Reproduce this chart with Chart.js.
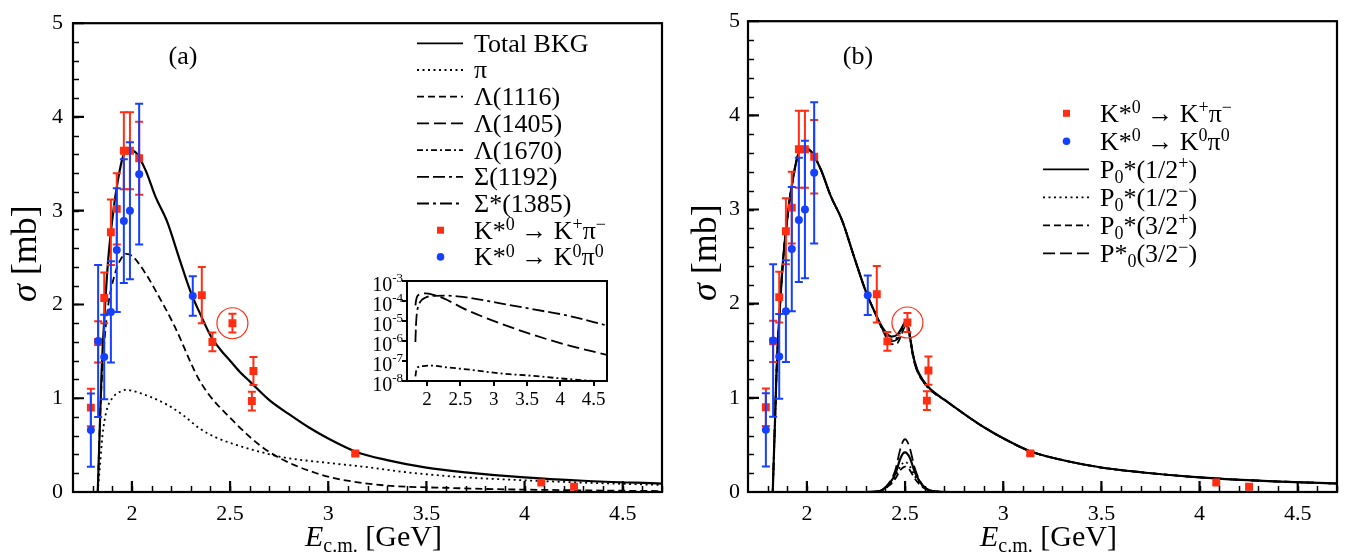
<!DOCTYPE html>
<html>
<head>
<meta charset="utf-8">
<title>K*0 photoproduction cross sections</title>
<script src="https://cdn.jsdelivr.net/npm/chart.js@4.4.1/dist/chart.umd.min.js"></script>
<style>
  html, body { margin: 0; padding: 0; background: #fff; overflow: hidden; }
  #wrap { position: relative; width: 1359px; height: 556px; }
  canvas { position: absolute; }
  #chartA { left: 0; top: 0; }
  #chartB { left: 680px; top: 0; }
  #inset { left: 340px; top: 270px; }
</style>
</head>
<body>
<div id="wrap">
  <canvas id="chartA" width="680" height="556"></canvas>
  <canvas id="chartB" width="679" height="556"></canvas>
  <canvas id="inset" width="280" height="145"></canvas>
</div>
<script>
const FONT = '"Liberation Serif", "DejaVu Serif", "Times New Roman", serif';
const RED = '#ff2d12';
const BLUE = '#1640ff';

// axis ticks
const xTickVals = [2, 2.5, 3, 3.5, 4, 4.5];
const yTickVals = [0, 1, 2, 3, 4, 5];
const insetXTicks = [2, 2.5, 3, 3.5, 4, 4.5];
const insetYTicks = [1e-3, 1e-4, 1e-5, 1e-6, 1e-7, 1e-8];
const insetYExp = ['-3', '-4', '-5', '-6', '-7', '-8'];

// measured cross sections (E_cm in GeV, sigma in mb)
const redE   = [1.791, 1.828, 1.859, 1.893, 1.923, 1.959, 1.990, 2.037, 2.356, 2.410, 2.512, 2.611, 2.619, 3.138, 4.085, 4.252];
const redSig = [0.90, 1.60, 2.07, 2.77, 3.02, 3.64, 3.64, 3.56, 2.10, 1.60, 1.80, 0.97, 1.29, 0.41, 0.10, 0.056];
const redErr = [0.20, 0.22, 0.27, 0.35, 0.38, 0.41, 0.41, 0.39, 0.30, 0.10, 0.10, 0.10, 0.15, 0.02, 0, 0];
const blueE   = [1.791, 1.828, 1.859, 1.893, 1.923, 1.959, 1.990, 2.037, 2.310];
const blueSig = [0.66, 1.61, 1.44, 1.92, 2.58, 2.89, 3.00, 3.39, 2.09];
const blueErr = [0.39, 0.81, 0.45, 0.54, 0.66, 0.66, 0.73, 0.75, 0.21];
const circledE = 2.512;
const circledSig = 1.80;

// panel (a): background contributions
const totE   = [1.826, 1.837, 1.845, 1.862, 1.879, 1.905, 1.93, 1.955, 1.98, 2.02, 2.07, 2.12, 2.18, 2.24, 2.3, 2.35, 2.4, 2.45, 2.5, 2.55, 2.6, 2.7, 2.8, 2.9, 3.0, 3.14, 3.3, 3.5, 3.7, 4.0, 4.3, 4.7];
const totSig = [0, 0.72, 1.25, 1.94, 2.47, 2.99, 3.34, 3.58, 3.65, 3.62, 3.43, 3.15, 2.88, 2.50, 2.13, 1.89, 1.67, 1.52, 1.40, 1.28, 1.18, 0.98, 0.83, 0.69, 0.57, 0.43, 0.34, 0.26, 0.21, 0.155, 0.12, 0.09];
const piE   = [1.826, 1.837, 1.85, 1.87, 1.9, 1.94, 1.97, 2.0, 2.1, 2.18, 2.26, 2.35, 2.43, 2.52, 2.65, 2.77, 3.0, 3.2, 3.4, 3.67, 4.0, 4.3, 4.7];
const piSig = [0, 0.27, 0.6, 0.86, 1.0, 1.07, 1.09, 1.08, 1.01, 0.93, 0.82, 0.67, 0.58, 0.51, 0.43, 0.37, 0.31, 0.265, 0.21, 0.16, 0.125, 0.10, 0.075];
const l1116E   = [1.826, 1.84, 1.86, 1.88, 1.91, 1.94, 1.97, 2.0, 2.07, 2.12, 2.21, 2.35, 2.52, 2.69, 2.94, 3.2, 3.67, 4.2, 4.7];
const l1116Sig = [0, 0.9, 1.6, 2.0, 2.3, 2.47, 2.54, 2.52, 2.33, 2.15, 1.80, 1.17, 0.75, 0.44, 0.20, 0.09, 0.04, 0.02, 0.01];

// small contributions (log inset)
const l1405E   = [1.826, 1.835, 1.85, 1.88, 1.93, 1.98, 2.1, 2.25, 2.6, 3.1, 3.6, 4.1, 4.7];
const l1405Sig = [6e-5, 1e-4, 1.6e-4, 2.1e-4, 2.35e-4, 2.4e-4, 2e-4, 1.35e-4, 3.5e-5, 7.6e-6, 2e-6, 6.3e-7, 2e-7];
const s1192E   = [1.826, 1.835, 1.845, 1.86, 1.9, 1.98, 2.1, 2.3, 2.6, 3.1, 3.6, 4.1, 4.7];
const s1192Sig = [9e-7, 6.3e-6, 2e-5, 4.3e-5, 9.3e-5, 1.5e-4, 1.8e-4, 1.85e-4, 1.5e-4, 7.6e-5, 3.8e-5, 1.9e-5, 5.9e-6];
const l1670E   = [1.826, 1.84, 1.87, 1.95, 2.05, 2.3, 2.6, 3.1, 3.6, 4.0, 4.5, 4.7];
const l1670Sig = [1.7e-8, 3.5e-8, 5e-8, 5.6e-8, 5.9e-8, 4.8e-8, 3.8e-8, 2.4e-8, 1.8e-8, 1.35e-8, 1e-8, 9.3e-9];

// panel (b): totals with the P0* resonance for each spin-parity
const bE = [1.826, 1.837, 1.845, 1.862, 1.879, 1.905, 1.93, 1.955, 1.98, 2.02, 2.07, 2.12, 2.18, 2.24, 2.3, 2.35, 2.39, 2.43, 2.46, 2.48, 2.50, 2.52, 2.54, 2.56, 2.59, 2.63, 2.7, 2.8, 2.9, 3.0, 3.14, 3.3, 3.5, 3.7, 4.0, 4.3, 4.7];
const bHalfPlus   = [0, 0.72, 1.25, 1.94, 2.47, 2.99, 3.34, 3.58, 3.65, 3.62, 3.43, 3.15, 2.88, 2.50, 2.13, 1.89, 1.73, 1.65, 1.67, 1.73, 1.79, 1.70, 1.46, 1.31, 1.19, 1.09, 0.98, 0.83, 0.69, 0.57, 0.43, 0.34, 0.26, 0.21, 0.155, 0.12, 0.09];
const bHalfMinus  = [0, 0.72, 1.25, 1.94, 2.47, 2.99, 3.34, 3.58, 3.65, 3.62, 3.43, 3.15, 2.88, 2.50, 2.13, 1.89, 1.72, 1.62, 1.64, 1.71, 1.77, 1.69, 1.45, 1.30, 1.18, 1.08, 0.98, 0.83, 0.69, 0.57, 0.43, 0.34, 0.26, 0.21, 0.155, 0.12, 0.09];
const bThreePlus  = [0, 0.72, 1.25, 1.94, 2.47, 2.99, 3.34, 3.58, 3.65, 3.62, 3.43, 3.15, 2.88, 2.50, 2.13, 1.89, 1.70, 1.57, 1.58, 1.66, 1.75, 1.70, 1.47, 1.31, 1.18, 1.08, 0.98, 0.83, 0.69, 0.57, 0.43, 0.34, 0.26, 0.21, 0.155, 0.12, 0.09];
const bThreeMinus = [0, 0.72, 1.25, 1.94, 2.47, 2.99, 3.34, 3.58, 3.65, 3.62, 3.43, 3.15, 2.88, 2.50, 2.13, 1.89, 1.71, 1.60, 1.62, 1.72, 1.80, 1.73, 1.44, 1.29, 1.18, 1.09, 0.98, 0.83, 0.69, 0.57, 0.43, 0.34, 0.26, 0.21, 0.155, 0.12, 0.09];

// resonance-only contributions
const resE          = [2.30, 2.37, 2.42, 2.45, 2.475, 2.49, 2.50, 2.51, 2.525, 2.55, 2.59, 2.64, 2.72];
const resHalfPlus   = [0, 0.01, 0.09, 0.19, 0.35, 0.41, 0.42, 0.41, 0.36, 0.21, 0.07, 0.01, 0];
const resHalfMinus  = [0, 0.01, 0.08, 0.16, 0.27, 0.31, 0.32, 0.31, 0.27, 0.17, 0.06, 0.01, 0];
const resThreePlus  = [0, 0.01, 0.07, 0.14, 0.23, 0.26, 0.27, 0.26, 0.23, 0.14, 0.05, 0.01, 0];
const resThreeMinus = [0, 0.01, 0.10, 0.23, 0.45, 0.54, 0.56, 0.54, 0.46, 0.25, 0.07, 0.01, 0];

// line styles
const DOT = [2, 3.5];
const DASH = [7, 4];
const LONGDASH = [12, 5];
const DASHDOT = [6, 3, 2, 3];
const DASHDASHDOT = [12, 4, 12, 4, 3, 4];
const LONGDASHDOT = [12, 4, 3, 4];

function serif(size, style) {
  return (style || '') + ' ' + size + 'px ' + FONT;
}

// draw a run of text pieces [text, kind]; kind: '' | 'i' | 'sup' | 'sub'
function drawRich(ctx, pieces, x, y, size, align) {
  const fontOf = k => k === 'i' ? serif(size, 'italic') : (k === 'sup' || k === 'sub') ? serif(Math.round(size * 0.68)) : serif(size);
  let total = 0;
  pieces.forEach(([t, k]) => { ctx.font = fontOf(k); total += ctx.measureText(t).width; });
  let cx = align === 'center' ? x - total / 2 : align === 'right' ? x - total : x;
  ctx.textAlign = 'left';
  ctx.textBaseline = 'alphabetic';
  pieces.forEach(([t, k]) => {
    ctx.font = fontOf(k);
    const dy = k === 'sup' ? -size * 0.33 : k === 'sub' ? size * 0.2 : 0;
    ctx.fillText(t, cx, y + dy);
    cx += ctx.measureText(t).width;
  });
}

function curve(xs, ys, dash, width) {
  return {
    data: xs.map((x, i) => ({ x: x, y: ys[i] })),
    showLine: true, borderColor: '#000', borderWidth: width || 1.8, borderDash: dash,
    pointRadius: 0, cubicInterpolationMode: 'monotone', order: 2
  };
}

function points(xs, ys, errs, color, style, r, order) {
  return {
    data: xs.map((x, i) => ({ x: x, y: ys[i] })),
    errors: errs, showLine: false, pointStyle: style, pointRadius: r,
    backgroundColor: color, borderColor: color, borderWidth: 0, order: order
  };
}

const kPlusPiMinus = [['K*', ''], ['0', 'sup'], [' \u2192 K', ''], ['+', 'sup'], ['\u03c0', ''], ['\u2212', 'sup']];
const kZeroPiZero = [['K*', ''], ['0', 'sup'], [' \u2192 K', ''], ['0', 'sup'], ['\u03c0', ''], ['0', 'sup']];

const legendA = [
  { dash: [], text: [['Total BKG', '']] },
  { dash: DOT, text: [['\u03c0', '']] },
  { dash: DASH, text: [['\u039b(1116)', '']] },
  { dash: LONGDASH, text: [['\u039b(1405)', '']] },
  { dash: DASHDOT, text: [['\u039b(1670)', '']] },
  { dash: DASHDASHDOT, text: [['\u03a3(1192)', '']] },
  { dash: LONGDASHDOT, text: [['\u03a3*(1385)', '']] },
  { marker: 'rect', color: RED, text: kPlusPiMinus },
  { marker: 'circle', color: BLUE, text: kZeroPiZero }
];

const legendB = [
  { marker: 'rect', color: RED, text: kPlusPiMinus },
  { marker: 'circle', color: BLUE, text: kZeroPiZero },
  { dash: [], text: [['P', ''], ['0', 'sub'], ['*(1/2', ''], ['+', 'sup'], [')', '']] },
  { dash: DOT, text: [['P', ''], ['0', 'sub'], ['*(1/2', ''], ['\u2212', 'sup'], [')', '']] },
  { dash: DASH, text: [['P', ''], ['0', 'sub'], ['*(3/2', ''], ['+', 'sup'], [')', '']] },
  { dash: LONGDASH, text: [['P*', ''], ['0', 'sub'], ['(3/2', ''], ['\u2212', 'sup'], [')', '']] }
];

// frame, inward ticks, error bars, legend and titles for the two main panels
const panelPlugin = {
  id: 'panel',
  beforeDatasetDraw(chart, args) {
    const ds = chart.data.datasets[args.index];
    if (!ds.errors) return;
    const { ctx, chartArea: a } = chart;
    const xs = chart.scales.x, ys = chart.scales.y;
    ctx.save();
    ctx.beginPath();
    ctx.rect(a.left, a.top, a.right - a.left, a.bottom - a.top);
    ctx.clip();
    ctx.strokeStyle = ds.backgroundColor;
    ctx.lineWidth = 2;
    ds.data.forEach((p, i) => {
      const e = ds.errors[i];
      if (!e) return;
      const px = xs.getPixelForValue(p.x);
      const y1 = ys.getPixelForValue(p.y + e);
      const y2 = ys.getPixelForValue(p.y - e);
      ctx.beginPath();
      ctx.moveTo(px, y1); ctx.lineTo(px, y2);
      ctx.moveTo(px - 4, y1); ctx.lineTo(px + 4, y1);
      ctx.moveTo(px - 4, y2); ctx.lineTo(px + 4, y2);
      ctx.stroke();
    });
    ctx.restore();
  },
  afterDraw(chart, args, opts) {
    const { ctx, chartArea: a } = chart;
    const xs = chart.scales.x, ys = chart.scales.y;
    ctx.save();
    ctx.strokeStyle = '#000';
    ctx.fillStyle = '#000';

    // inward ticks: majors from the tick lists, minors every 0.1 GeV / 0.2 mb
    ctx.lineWidth = 1.5;
    ctx.beginPath();
    for (let v = 1.8; v < 4.7; v += 0.1) {
      const px = Math.round(xs.getPixelForValue(v)) + 0.5;
      ctx.moveTo(px, a.bottom); ctx.lineTo(px, a.bottom - 6);
    }
    for (let v = 0.2; v < 5; v += 0.2) {
      const py = Math.round(ys.getPixelForValue(v)) + 0.5;
      ctx.moveTo(a.left, py); ctx.lineTo(a.left + 6, py);
    }
    ctx.stroke();
    ctx.lineWidth = 2.2;
    ctx.beginPath();
    xTickVals.forEach(v => {
      const px = xs.getPixelForValue(v);
      ctx.moveTo(px, a.bottom); ctx.lineTo(px, a.bottom - 11);
    });
    yTickVals.forEach(v => {
      const py = ys.getPixelForValue(v);
      ctx.moveTo(a.left, py); ctx.lineTo(a.left + 11, py);
    });
    ctx.stroke();

    ctx.lineWidth = 2.2;
    ctx.strokeRect(a.left, a.top, a.right - a.left, a.bottom - a.top);

    // circled point
    ctx.strokeStyle = RED;
    ctx.lineWidth = 1.2;
    ctx.beginPath();
    ctx.arc(xs.getPixelForValue(circledE), ys.getPixelForValue(circledSig), 15.5, 0, Math.PI * 2);
    ctx.stroke();

    // panel tag
    ctx.fillStyle = '#000';
    ctx.font = serif(26);
    ctx.textAlign = 'center';
    ctx.textBaseline = 'alphabetic';
    ctx.fillText(opts.tag, a.left + 110, 63.5);

    // legend
    const L = opts.legend;
    L.rows.forEach((row, i) => {
      const y = L.y0 + i * L.dy;
      if (row.marker) {
        ctx.fillStyle = row.color;
        if (row.marker === 'rect') {
          ctx.fillRect(L.markX - 3.5, y - 3.5, 7, 7);
        } else {
          ctx.beginPath();
          ctx.arc(L.markX, y, 3.8, 0, Math.PI * 2);
          ctx.fill();
        }
      } else {
        ctx.strokeStyle = '#000';
        ctx.lineWidth = 1.8;
        ctx.setLineDash(row.dash);
        ctx.beginPath();
        ctx.moveTo(L.x1, y); ctx.lineTo(L.x2, y);
        ctx.stroke();
        ctx.setLineDash([]);
      }
      ctx.fillStyle = '#000';
      drawRich(ctx, row.text, L.textX, y + 8.4, 26, 'left');
    });

    // axis titles
    ctx.fillStyle = '#000';
    drawRich(ctx, [['E', 'i'], ['c.m.', 'sub'], [' [GeV]', '']], a.left + 232, 546, 30, 'left');
    ctx.save();
    ctx.translate(opts.yTitleX, (a.top + a.bottom) / 2 - 4);
    ctx.rotate(-Math.PI / 2);
    drawRich(ctx, [['\u03c3', 'i'], [' [mb]', '']], 0, 0, 36, 'center');
    ctx.restore();

    ctx.restore();
  }
};

function mainOptions(cfg) {
  return {
    responsive: false,
    animation: false,
    events: [],
    layout: { padding: { left: 0, top: 15, right: cfg.padRight, bottom: 0 } },
    plugins: { legend: { display: false }, tooltip: { enabled: false }, panel: cfg },
    scales: {
      x: {
        type: 'linear', min: 1.7, max: 4.7,
        afterBuildTicks: s => { s.ticks = xTickVals.map(v => ({ value: v })); },
        afterFit: s => { s.height = 64; },
        grid: { display: false, drawTicks: false },
        border: { display: false },
        ticks: { color: '#000', font: { family: FONT, size: 22 }, padding: 9, maxRotation: 0, autoSkip: false, callback: v => String(v) }
      },
      y: {
        type: 'linear', min: 0, max: 5,
        afterBuildTicks: s => { s.ticks = yTickVals.map(v => ({ value: v })); },
        afterFit: s => { s.width = cfg.axisWidth; },
        grid: { display: false, drawTicks: false },
        border: { display: false },
        ticks: { color: '#000', font: { family: FONT, size: 22 }, padding: cfg.yPad, callback: v => String(v) }
      }
    }
  };
}

new Chart(document.getElementById('chartA'), {
  type: 'scatter',
  data: {
    datasets: [
      curve(totE, totSig, [], 2.2),
      curve(piE, piSig, DOT),
      curve(l1116E, l1116Sig, DASH),
      points(redE, redSig, redErr, RED, 'rect', 5.6, 1),
      points(blueE, blueSig, blueErr, BLUE, 'circle', 4, 0)
    ]
  },
  options: mainOptions({
    tag: '(a)', padRight: 18, axisWidth: 73, yPad: 10, yTitleX: 36,
    legend: { rows: legendA, x1: 417, x2: 463, markX: 440.5, textX: 474, y0: 43.3, dy: 26.7 }
  }),
  plugins: [panelPlugin]
});

new Chart(document.getElementById('chartB'), {
  type: 'scatter',
  data: {
    datasets: [
      curve(bE, bHalfMinus, DOT),
      curve(bE, bThreePlus, DASH),
      curve(bE, bThreeMinus, LONGDASH),
      curve(bE, bHalfPlus, [], 2.2),
      curve(resE, resHalfMinus, DOT),
      curve(resE, resThreePlus, DASH),
      curve(resE, resThreeMinus, LONGDASH),
      curve(resE, resHalfPlus, [], 2.2),
      points(redE, redSig, redErr, RED, 'rect', 5.6, 1),
      points(blueE, blueSig, blueErr, BLUE, 'circle', 4, 0)
    ]
  },
  options: mainOptions({
    tag: '(b)', padRight: 22, axisWidth: 68, yPad: 8, yTitleX: 36,
    legend: { rows: legendB, x1: 363, x2: 409, markX: 386.5, textX: 420, y0: 113.3, dy: 28 }
  }),
  plugins: [panelPlugin]
});

// log-scale inset for the small hyperon contributions
const insetPlugin = {
  id: 'insetFrame',
  afterDraw(chart) {
    const { ctx, chartArea: a } = chart;
    const ys = chart.scales.y;
    ctx.save();
    ctx.strokeStyle = '#000';
    ctx.lineWidth = 2;
    ctx.strokeRect(a.left, a.top, a.right - a.left, a.bottom - a.top);
    ctx.fillStyle = '#000';
    insetYTicks.forEach((v, i) => {
      const py = ys.getPixelForValue(v);
      ctx.font = serif(20);
      ctx.textAlign = 'right';
      ctx.textBaseline = 'alphabetic';
      const supW = (ctx.font = serif(13), ctx.measureText(insetYExp[i]).width);
      ctx.fillText(insetYExp[i], a.left - 4, py + 1);
      ctx.font = serif(20);
      ctx.fillText('10', a.left - 4 - supW, py + 10);
    });
    ctx.restore();
  }
};

new Chart(document.getElementById('inset'), {
  type: 'scatter',
  data: {
    datasets: [
      curve(l1405E, l1405Sig, LONGDASH),
      curve(s1192E, s1192Sig, DASHDASHDOT),
      curve(l1670E, l1670Sig, DASHDOT)
    ]
  },
  options: {
    responsive: false,
    animation: false,
    events: [],
    layout: { padding: { left: 0, top: 11, right: 13, bottom: 0 } },
    plugins: { legend: { display: false }, tooltip: { enabled: false } },
    scales: {
      x: {
        type: 'linear', min: 1.7, max: 4.7,
        afterBuildTicks: s => { s.ticks = insetXTicks.map(v => ({ value: v })); },
        afterFit: s => { s.height = 34; },
        grid: { drawOnChartArea: false, tickLength: 5, lineWidth: 2, color: '#000' },
        border: { display: false },
        ticks: { color: '#000', font: { family: FONT, size: 19 }, padding: 3, maxRotation: 0, autoSkip: false, callback: v => String(v) }
      },
      y: {
        type: 'logarithmic', min: 1e-8, max: 1e-3,
        afterBuildTicks: s => { s.ticks = insetYTicks.map(v => ({ value: v })); },
        afterFit: s => { s.width = 67; },
        grid: { drawOnChartArea: false, tickLength: 5, lineWidth: 2, color: '#000' },
        border: { display: false },
        ticks: { display: false }
      }
    }
  },
  plugins: [insetPlugin]
});
</script>
</body>
</html>
